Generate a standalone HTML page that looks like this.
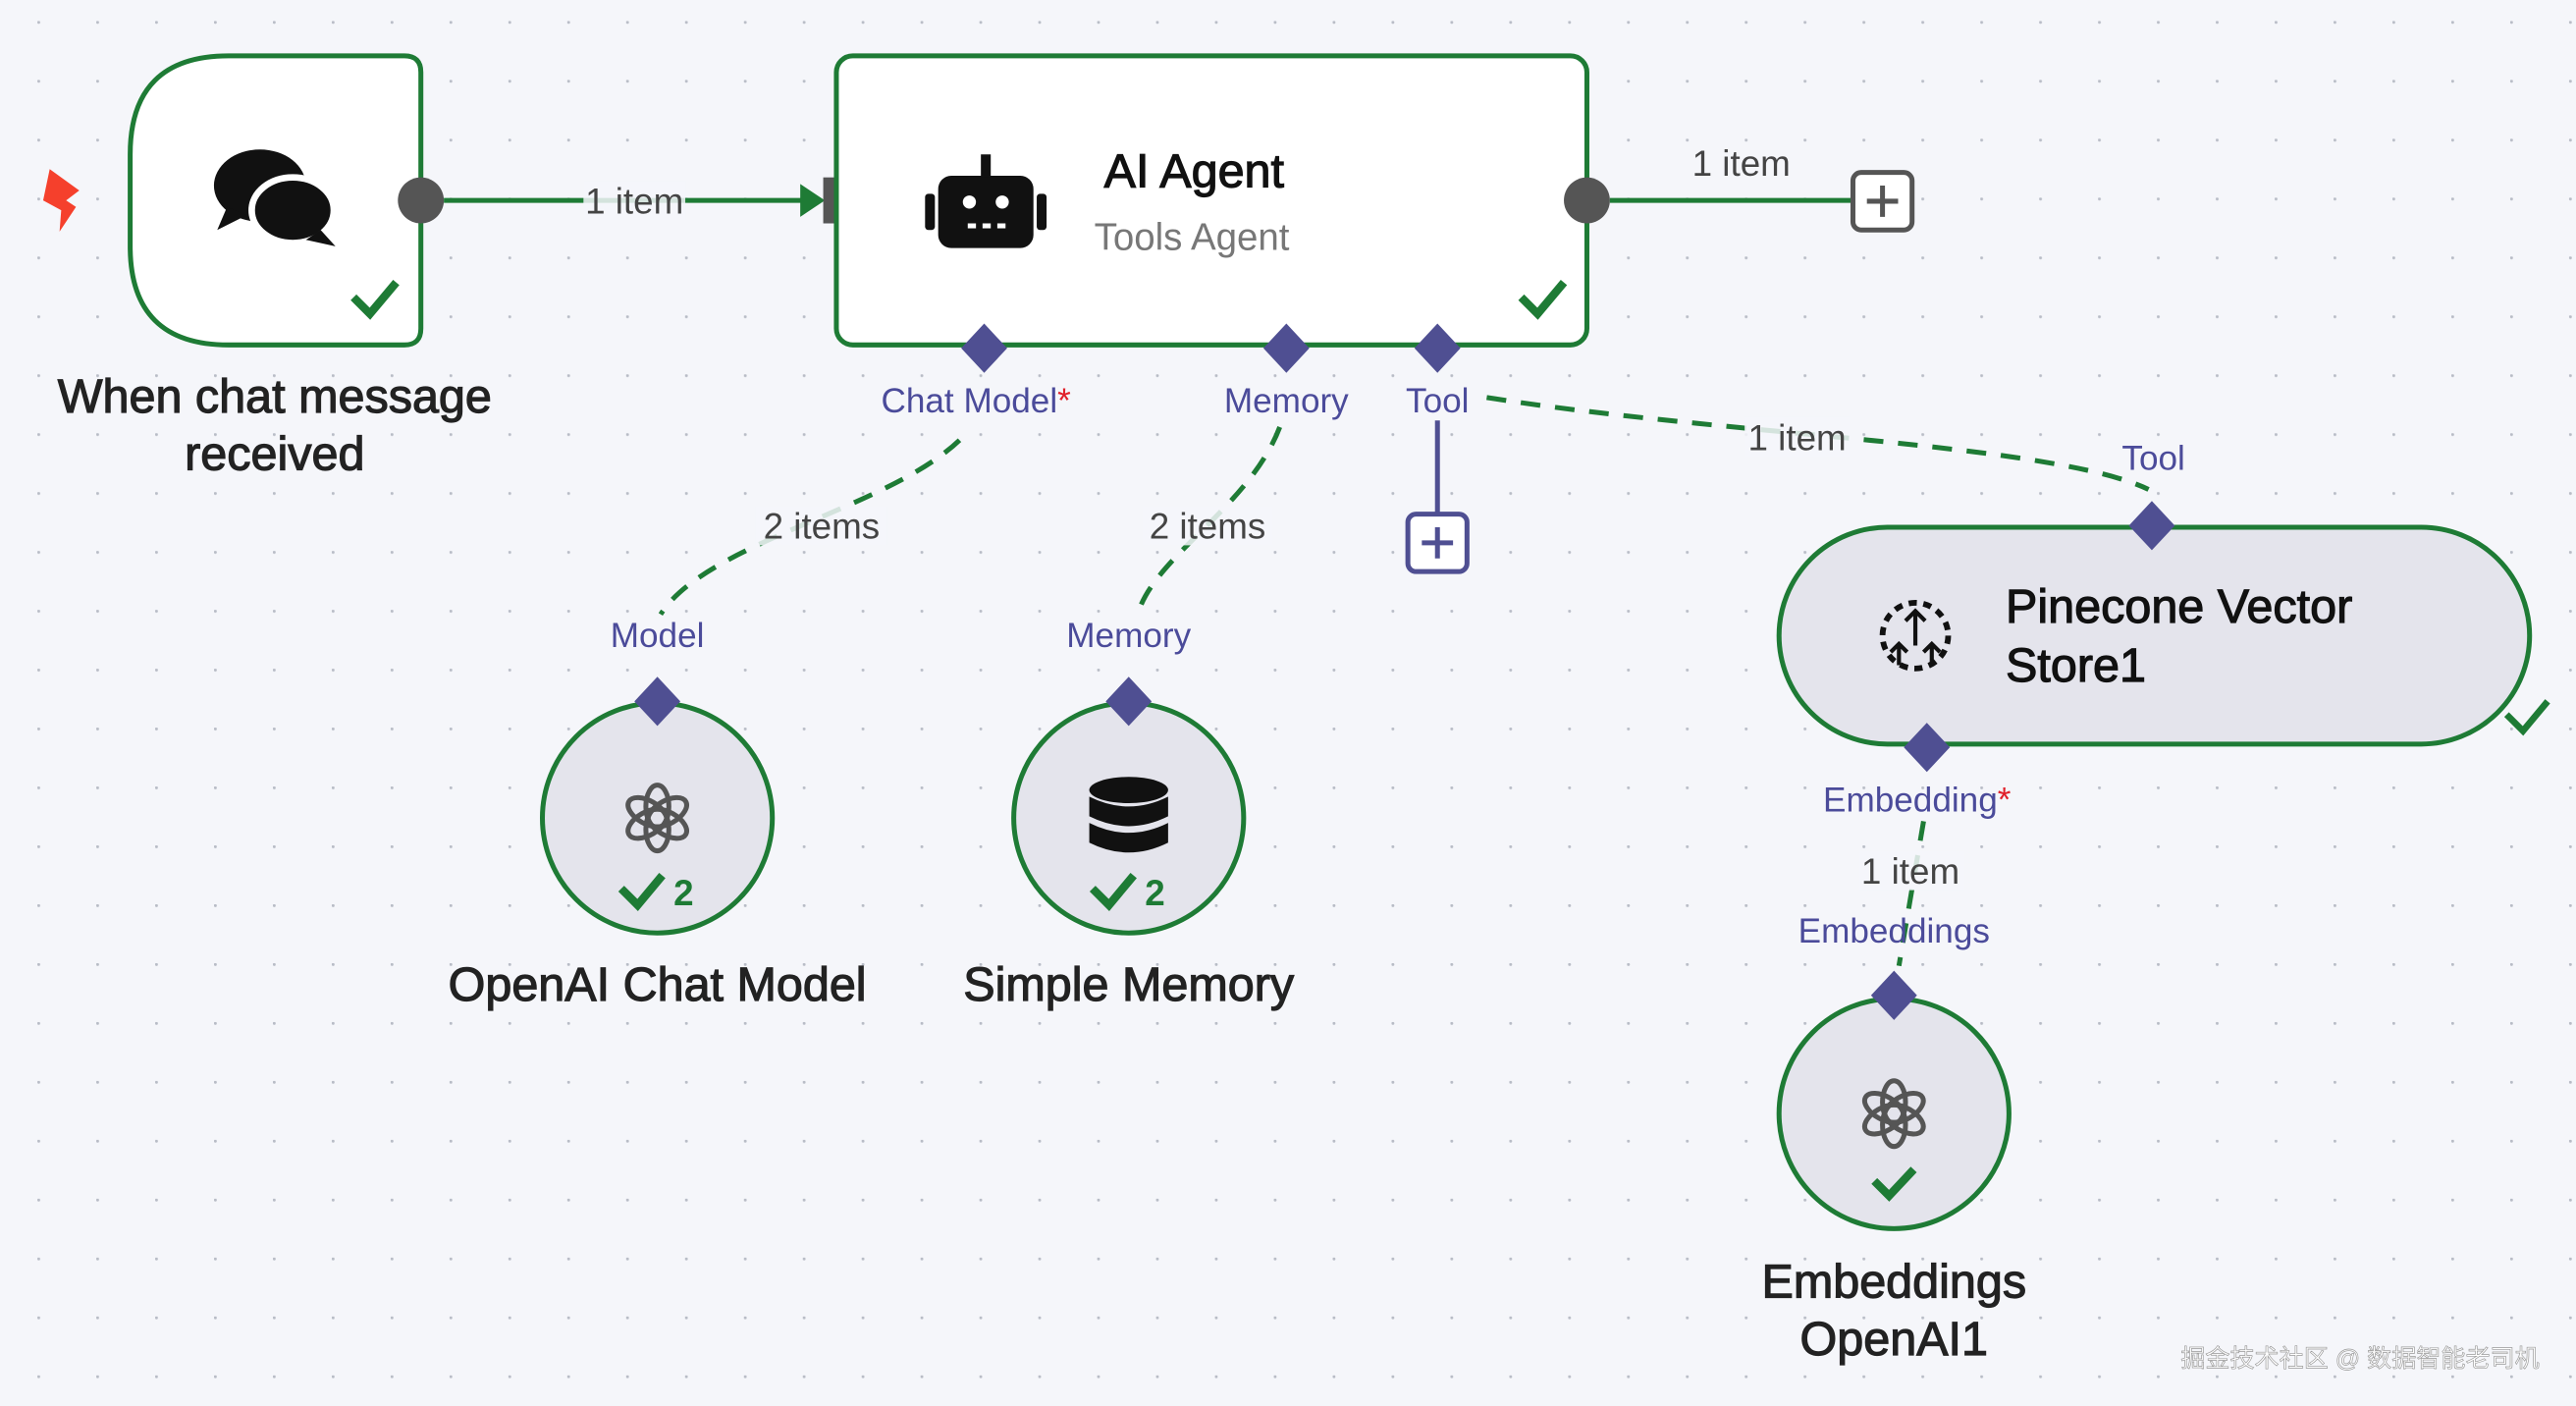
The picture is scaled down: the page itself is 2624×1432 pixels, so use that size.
<!DOCTYPE html>
<html><head><meta charset="utf-8"><style>
html,body{margin:0;padding:0;background:#f5f6fa;}
svg{display:block;}
text{font-family:"Liberation Sans","Noto Sans CJK SC",sans-serif;}
</style></head><body>
<svg width="2624" height="1432" viewBox="0 0 1568 856" xmlns="http://www.w3.org/2000/svg">
<defs>
<pattern id="dots" x="22.5" y="12.8" width="35.85" height="35.85" patternUnits="userSpaceOnUse">
<circle cx="0.8" cy="0.8" r="0.9" fill="#b8bcc6"/>
</pattern>
<g id="oai" fill="none" stroke="#555" stroke-width="3">
<ellipse cx="0" cy="-7" rx="7" ry="13" transform="rotate(0)"/>
<ellipse cx="0" cy="-7" rx="7" ry="13" transform="rotate(60)"/>
<ellipse cx="0" cy="-7" rx="7" ry="13" transform="rotate(120)"/>
<ellipse cx="0" cy="-7" rx="7" ry="13" transform="rotate(180)"/>
<ellipse cx="0" cy="-7" rx="7" ry="13" transform="rotate(240)"/>
<ellipse cx="0" cy="-7" rx="7" ry="13" transform="rotate(300)"/>
</g>
</defs>
<rect width="1568" height="856" fill="#f5f6fa"/>
<rect width="1568" height="856" fill="url(#dots)"/>

<!-- lightning -->
<path d="M30 103 L48 116 L40 122 L46 126 L36 141 L37 128 L26 122 Z" fill="#f5402c"/>

<!-- trigger node -->
<path d="M139 34 H246 Q256 34 256 44 V200 Q256 210 246 210 H139 Q79 210 79 150 V94 Q79 34 139 34 Z" fill="#fff" stroke="#1e7b35" stroke-width="3"/>
<g fill="#111">
<ellipse cx="158" cy="113" rx="28" ry="22"/>
<path d="M138 126 L132 140 L150 131 Z"/>
<ellipse cx="178" cy="128" rx="25" ry="20" stroke="#fff" stroke-width="4"/>
<path d="M195 140 L204 150 L186 146 Z"/>
</g>
<path d="M215 181 L225 191 L241 172" fill="none" stroke="#1e7b35" stroke-width="5"/>
<circle cx="256" cy="122" r="14" fill="#555"/>
<g stroke="#222" stroke-width="0.7">
<text x="167" y="251" font-size="29" text-anchor="middle" fill="#222">When chat message</text>
<text x="167" y="286" font-size="29" text-anchor="middle" fill="#222">received</text>
</g>

<!-- main connection -->
<line x1="270" y1="122" x2="490" y2="122" stroke="#1e7b35" stroke-width="3"/>
<path d="M487 112 L502 122 L487 132 Z" fill="#1e7b35"/>
<rect x="355" y="110" width="62" height="24" fill="#f5f6fa" opacity="0.85"/>
<text x="386" y="130" font-size="22" text-anchor="middle" fill="#444">1 item</text>
<rect x="501" y="108" width="14" height="28" fill="#555"/>

<!-- AI agent node -->
<rect x="509" y="34" width="457" height="176" rx="10" fill="#fff" stroke="#1e7b35" stroke-width="3"/>
<rect x="571" y="107" width="58" height="44" rx="8" fill="#111"/>
<rect x="563" y="118" width="6" height="22" rx="2" fill="#111"/>
<rect x="631" y="118" width="6" height="22" rx="2" fill="#111"/>
<rect x="597" y="94" width="6" height="14" fill="#111"/>
<circle cx="590" cy="123" r="4" fill="#fff"/><circle cx="610" cy="123" r="4" fill="#fff"/>
<rect x="589" y="136" width="5" height="3" fill="#fff"/><rect x="598" y="136" width="5" height="3" fill="#fff"/><rect x="607" y="136" width="5" height="3" fill="#fff"/>
<text x="672" y="114" font-size="29" fill="#111" stroke="#111" stroke-width="0.7">AI Agent</text>
<text x="666" y="152" font-size="23" fill="#777">Tools Agent</text>
<path d="M926 181 L936 191 L952 172" fill="none" stroke="#1e7b35" stroke-width="5"/>
<circle cx="966" cy="122" r="14" fill="#555"/>
<line x1="980" y1="122" x2="1128" y2="122" stroke="#1e7b35" stroke-width="3"/>
<text x="1060" y="107" font-size="22" text-anchor="middle" fill="#444">1 item</text>
<rect x="1128" y="105" width="36" height="35" rx="5" fill="#fff" stroke="#555" stroke-width="3"/>
<path d="M1146 113 V132 M1136.5 122.5 H1155.5" stroke="#555" stroke-width="3"/>

<!-- agent bottom handles -->
<g fill="#4f4f92">
<path d="M599 197 L613 212 L599 227 L585 212 Z"/>
<path d="M783 197 L797 212 L783 227 L769 212 Z"/>
<path d="M875 197 L889 212 L875 227 L861 212 Z"/>
</g>
<g font-size="21" fill="#4b4b9a" text-anchor="middle">
<text x="594" y="251">Chat Model<tspan fill="#e0202a">*</tspan></text>
<text x="783" y="251">Memory</text>
<text x="875" y="251">Tool</text>
</g>
<line x1="875" y1="256" x2="875" y2="313" stroke="#4f4f92" stroke-width="3"/>
<rect x="857" y="313" width="36" height="35" rx="5" fill="#fff" stroke="#4f4f92" stroke-width="3"/>
<path d="M875 321 V340 M865.5 330.5 H884.5" stroke="#4f4f92" stroke-width="3"/>

<!-- dashed connections -->
<g fill="none" stroke="#1e7b35" stroke-width="3" stroke-dasharray="12 9">
<path d="M584 268 C540 310 430 330 402 374"/>
<path d="M779 260 C760 310 700 340 692 376"/>
<path d="M905 242 C1050 265 1250 270 1308 298"/>
<path d="M1171 500 L1156 588"/>
</g>
<rect x="460" y="308" width="80" height="24" fill="#f5f6fa" opacity="0.85"/>
<text x="500" y="328" font-size="22" text-anchor="middle" fill="#444">2 items</text>
<rect x="695" y="308" width="80" height="24" fill="#f5f6fa" opacity="0.85"/>
<text x="735" y="328" font-size="22" text-anchor="middle" fill="#444">2 items</text>
<rect x="1062" y="254" width="64" height="24" fill="#f5f6fa" opacity="0.85"/>
<text x="1094" y="274" font-size="22" text-anchor="middle" fill="#444">1 item</text>
<rect x="1132" y="518" width="64" height="24" fill="#f5f6fa" opacity="0.85"/>
<text x="1163" y="538" font-size="22" text-anchor="middle" fill="#444">1 item</text>

<!-- OpenAI Chat Model -->
<circle cx="400" cy="498" r="70" fill="#e4e4ec" stroke="#1e7b35" stroke-width="3"/>
<path d="M400 412 L414 427 L400 442 L386 427 Z" fill="#4f4f92"/>
<text x="400" y="394" font-size="21" fill="#4b4b9a" text-anchor="middle">Model</text>
<use href="#oai" x="400" y="498"/>
<path d="M378 541 L388 551 L403 533" fill="none" stroke="#1e7b35" stroke-width="5"/>
<text x="416" y="551" font-size="22" font-weight="bold" fill="#1e7b35" text-anchor="middle">2</text>
<text x="400" y="609" font-size="29" fill="#222" stroke="#222" stroke-width="0.7" text-anchor="middle">OpenAI Chat Model</text>

<!-- Simple Memory -->
<circle cx="687" cy="498" r="70" fill="#e4e4ec" stroke="#1e7b35" stroke-width="3"/>
<path d="M687 412 L701 427 L687 442 L673 427 Z" fill="#4f4f92"/>
<text x="687" y="394" font-size="21" fill="#4b4b9a" text-anchor="middle">Memory</text>
<g fill="#111">
<ellipse cx="687" cy="481" rx="24" ry="8"/>
<path d="M663 485 Q687 497 711 485 V497 Q687 509 663 497 Z"/>
<path d="M663 501 Q687 513 711 501 V513 Q687 525 663 513 Z"/>
</g>
<path d="M665 541 L675 551 L690 533" fill="none" stroke="#1e7b35" stroke-width="5"/>
<text x="703" y="551" font-size="22" font-weight="bold" fill="#1e7b35" text-anchor="middle">2</text>
<text x="687" y="609" font-size="29" fill="#222" stroke="#222" stroke-width="0.7" text-anchor="middle">Simple Memory</text>

<!-- Pinecone -->
<rect x="1083" y="321" width="457" height="132" rx="66" fill="#e4e4ec" stroke="#1e7b35" stroke-width="3"/>
<path d="M1310 305 L1324 320 L1310 335 L1296 320 Z" fill="#4f4f92"/>
<text x="1311" y="286" font-size="21" fill="#4b4b9a" text-anchor="middle">Tool</text>
<g stroke="#111" stroke-width="3.5" fill="none" stroke-dasharray="5 4">
<circle cx="1166" cy="387" r="20"/>
</g>
<g stroke="#111" stroke-width="2.5" fill="none">
<path d="M1166 393 V372 M1160 378 L1166 372 L1172 378"/>
<path d="M1156 405 V392 M1151 397 L1156 392 L1161 397"/>
<path d="M1176 405 V392 M1171 397 L1176 392 L1181 397"/>
</g>
<text x="1221" y="379" font-size="29" fill="#111" stroke="#111" stroke-width="0.7">Pinecone Vector</text>
<text x="1221" y="415" font-size="29" fill="#111" stroke="#111" stroke-width="0.7">Store1</text>
<path d="M1526 435 L1536 445 L1551 427" fill="none" stroke="#1e7b35" stroke-width="4"/>
<path d="M1173 440 L1187 455 L1173 470 L1159 455 Z" fill="#4f4f92"/>
<text x="1167" y="494" font-size="21" fill="#4b4b9a" text-anchor="middle">Embedding<tspan fill="#e0202a">*</tspan></text>
<text x="1153" y="574" font-size="21" fill="#4b4b9a" text-anchor="middle">Embeddings</text>

<!-- Embeddings OpenAI1 -->
<circle cx="1153" cy="678" r="70" fill="#e4e4ec" stroke="#1e7b35" stroke-width="3"/>
<path d="M1153 591 L1167 606 L1153 621 L1139 606 Z" fill="#4f4f92"/>
<use href="#oai" x="1153" y="678"/>
<path d="M1141 719 L1150 728 L1165 712" fill="none" stroke="#1e7b35" stroke-width="5"/>
<text x="1153" y="790" font-size="29" fill="#222" stroke="#222" stroke-width="0.7" text-anchor="middle">Embeddings</text>
<text x="1153" y="825" font-size="29" fill="#222" stroke="#222" stroke-width="0.7" text-anchor="middle">OpenAI1</text>

<!-- watermark -->
<text x="1546" y="832" font-size="15" text-anchor="end" fill="#fff" stroke="#999" stroke-width="0.4">掘金技术社区 @ 数据智能老司机</text>
</svg>
</body></html>
